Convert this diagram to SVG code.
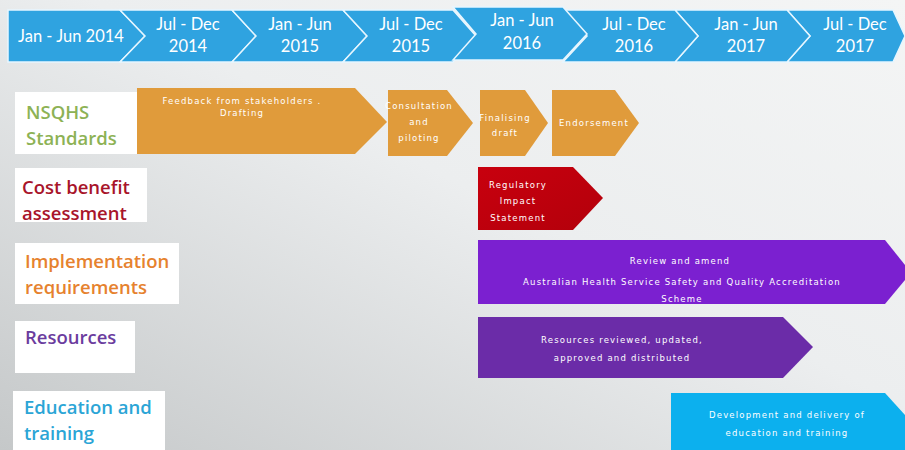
<svg xmlns="http://www.w3.org/2000/svg" width="905" height="450" viewBox="0 0 905 450">
<defs>
<linearGradient id="bg" x1="1" y1="0" x2="0" y2="1">
<stop offset="0" stop-color="#f4f5f5"/>
<stop offset="0.45" stop-color="#eceeef"/>
<stop offset="1" stop-color="#c5c8c9"/>
</linearGradient>
<linearGradient id="red" x1="0" y1="0" x2="1" y2="1">
<stop offset="0" stop-color="#c8000e"/>
<stop offset="1" stop-color="#b3000b"/>
</linearGradient>
<style>
.hdr{fill:#2fa3e0;stroke:#e6f6ff;stroke-width:1.5}
.ht{font-family:"Lato","Open Sans",sans-serif;font-size:16.5px;fill:#ffffff;text-anchor:middle}
.lbox{fill:#ffffff}
.lt{font-family:"Open Sans","Liberation Sans",sans-serif;font-weight:600;font-size:18.5px}
.bt{font-family:"DejaVu Sans",sans-serif;font-size:8.5px;fill:#ffffff;text-anchor:middle;letter-spacing:1.2px}
.or{fill:#e09b3b}
</style>
</defs>
<rect width="905" height="450" fill="url(#bg)"/>

<g id="header">
<polygon class="hdr" points="8,10 120,10 145,36 120,62 8,62"/>
<polygon class="hdr" points="120,10 232,10 256,36 232,62 120,62 145,36"/>
<polygon class="hdr" points="232,10 343,10 367,36 343,62 232,62 256,36"/>
<polygon class="hdr" points="343,10 453,10 476,36 453,62 343,62 367,36"/>
<polygon class="hdr" points="787,10 893,10 905,36 905,36 893,62 787,62 810,36"/>
<polygon class="hdr" points="675,10 787,10 810,36 787,62 675,62 698,36"/>
<polygon class="hdr" points="563,10 675,10 698,36 675,62 563,62 587,36"/>
<polygon class="hdr" points="453,7 563,7 587,34 563,60 453,60 476,34"/>
<text class="ht" x="71" y="42">Jan - Jun 2014</text>
<text class="ht" x="188" y="30">Jul - Dec</text><text class="ht" x="188" y="52">2014</text>
<text class="ht" x="300" y="30">Jan - Jun</text><text class="ht" x="300" y="52">2015</text>
<text class="ht" x="411" y="30">Jul - Dec</text><text class="ht" x="411" y="52">2015</text>
<text class="ht" x="522" y="26">Jan - Jun</text><text class="ht" x="522" y="49">2016</text>
<text class="ht" x="634" y="30">Jul - Dec</text><text class="ht" x="634" y="52">2016</text>
<text class="ht" x="746" y="30">Jan - Jun</text><text class="ht" x="746" y="52">2017</text>
<text class="ht" x="855" y="30">Jul - Dec</text><text class="ht" x="855" y="52">2017</text>
</g>

<g id="label-nsqhs">
<rect class="lbox" x="15" y="92" width="122" height="62"/>
<text class="lt" x="26" y="119" fill="#8db255">NSQHS</text>
<text class="lt" x="26" y="145" fill="#8db255">Standards</text>
</g>
<g id="label-cost">
<rect class="lbox" x="15" y="168" width="132" height="54"/>
<text class="lt" x="22" y="194" fill="#a8142a">Cost benefit</text>
<text class="lt" x="22" y="220" fill="#a8142a">assessment</text>
</g>
<g id="label-impl">
<rect class="lbox" x="15" y="243" width="164" height="61"/>
<text class="lt" x="25" y="268" fill="#e6822e">Implementation</text>
<text class="lt" x="25" y="294" fill="#e6822e">requirements</text>
</g>
<g id="label-resources">
<rect class="lbox" x="15" y="321" width="120" height="52"/>
<text class="lt" x="25" y="344" fill="#6b3c9e">Resources</text>
</g>
<g id="label-education">
<rect class="lbox" x="13" y="391" width="152" height="59"/>
<text class="lt" x="24" y="414" fill="#2ba5d6">Education and</text>
<text class="lt" x="24" y="440" fill="#2ba5d6">training</text>
</g>

<g id="bar-feedback">
<polygon class="or" points="137,88 355,88 387,122 355,154 137,154"/>
<text class="bt" x="242" y="104">Feedback from stakeholders .</text>
<text class="bt" x="242" y="116">Drafting</text>
</g>
<g id="bar-consultation">
<polygon class="or" points="388,90 447,90 473,123 447,156 388,156"/>
<text class="bt" x="419" y="109">Consultation</text>
<text class="bt" x="419" y="125">and</text>
<text class="bt" x="419" y="141">piloting</text>
</g>
<g id="bar-finalising">
<polygon class="or" points="480,90 525,90 548,123 525,156 480,156"/>
<text class="bt" x="505" y="121">Finalising</text>
<text class="bt" x="505" y="136">draft</text>
</g>
<g id="bar-endorsement">
<polygon class="or" points="552,90 615,90 639,123 615,156 552,156"/>
<text class="bt" x="594" y="126">Endorsement</text>
</g>
<g id="bar-regulatory">
<polygon fill="url(#red)" points="478,167 573,167 603,198 573,230 478,230"/>
<text class="bt" x="518" y="188">Regulatory</text>
<text class="bt" x="518" y="204">Impact</text>
<text class="bt" x="518" y="221">Statement</text>
</g>
<g id="bar-review">
<polygon fill="#7b20d0" points="478,240 885,240 905,265 905,280 885,304 478,304"/>
<text class="bt" x="680" y="264">Review and amend</text>
<text class="bt" x="682" y="285">Australian Health Service Safety and Quality Accreditation</text>
<text class="bt" x="682" y="302">Scheme</text>
</g>
<g id="bar-resources">
<polygon fill="#6b2ca8" points="478,317 783,317 813,347 783,378 478,378"/>
<text class="bt" x="622" y="343">Resources reviewed, updated,</text>
<text class="bt" x="622" y="361">approved and distributed</text>
</g>
<g id="bar-education">
<polygon fill="#0cb0ee" points="671,393 885,393 905,415 905,450 671,450"/>
<text class="bt" x="787" y="418">Development and delivery of</text>
<text class="bt" x="787" y="436">education and training</text>
</g>
<g id="connectors"/>
</svg>
